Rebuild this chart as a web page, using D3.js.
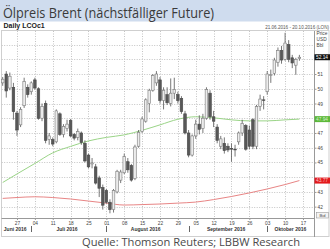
<!DOCTYPE html>
<html>
<head>
<meta charset="utf-8">
<script src="https://cdn.jsdelivr.net/npm/d3@7"></script>
<style>
body { margin: 0; background: #fff; }
svg { display: block; }
</style>
</head>
<body>
<div id="chart"></div>
<script>
// Brent front month, daily candles from 21.06.2016 (one value per trading day)
var startDate = "2016-06-21",
    endDate = "2016-10-20";

var open  = [50.4, 51.0, 50.05, 50.1, 48.35, 47.55, 48.85, 50.1, 49.8, 50.6,
             50.0, 48.0, 49.0, 46.55, 46.55, 46.4, 48.3, 46.9, 47.3, 47.85,
             46.9, 46.7, 47.0, 46.3, 45.5, 44.9, 44.7, 43.95, 43.3, 43.1,
             42.3, 41.8, 43.0, 43.8, 44.3, 45.05, 44.8, 43.9, 46.1, 47.1,
             47.8, 49.0, 49.9, 50.4, 50.6, 49.2, 49.6, 49.0, 49.7, 49.6,
             49.35, 48.3, 47.0, 45.5, 46.8, 47.6, 47.3, 48.0, 49.7, 48.1,
             47.4, 46.1, 46.3, 46.1, 45.95, 45.9, 46.4, 47.0, 47.5, 47.2,
             47.9, 46.1, 48.8, 49.25, 49.8, 50.9, 51.05, 51.8, 52.6, 52.0,
             53.0, 52.1, 51.6, 52.05];
var high  = [50.8, 51.2, 51.1, 50.4, 48.5, 48.75, 50.75, 50.3, 50.5, 50.75,
             50.1, 49.0, 49.2, 47.0, 46.7, 48.6, 48.4, 47.6, 47.9, 47.95,
             47.0, 47.3, 47.1, 46.5, 45.6, 45.3, 44.9, 44.1, 43.5, 43.2,
             42.5, 43.2, 44.5, 44.5, 45.6, 45.3, 44.9, 46.2, 47.2, 48.1,
             49.35, 50.0, 51.0, 51.2, 50.8, 50.1, 50.1, 50.7, 50.75, 49.8,
             49.5, 48.5, 47.2, 46.9, 47.9, 48.2, 48.3, 50.1, 49.9, 48.5,
             47.6, 46.8, 46.7, 46.3, 46.3, 46.2, 47.1, 47.9, 47.6, 47.5,
             48.0, 48.9, 49.6, 49.5, 51.2, 51.3, 52.1, 52.8, 52.9, 53.8,
             53.3, 52.3, 52.1, 52.3];
var low   = [50.2, 49.4, 49.9, 47.9, 46.8, 47.4, 48.7, 49.4, 49.6, 49.95,
             47.9, 47.8, 46.3, 46.2, 46.1, 46.3, 46.8, 46.7, 47.1, 46.7,
             46.5, 46.5, 46.2, 45.0, 44.6, 44.6, 43.5, 42.65, 41.8, 42.2,
             41.55, 41.6, 42.9, 43.6, 44.2, 44.3, 43.7, 43.8, 46.0, 47.0,
             47.7, 48.4, 49.8, 50.2, 49.0, 48.6, 48.9, 48.8, 49.3, 49.0,
             48.3, 46.9, 45.35, 45.4, 46.6, 46.9, 47.0, 47.9, 47.9, 47.4,
             46.3, 45.9, 45.6, 45.7, 45.05, 45.4, 46.2, 46.8, 45.8, 45.9,
             45.9, 45.9, 48.5, 48.6, 49.6, 50.4, 50.9, 51.5, 51.7, 51.9,
             51.8, 51.4, 50.95, 51.9];
var close = [50.65, 49.85, 50.85, 48.45, 47.2, 48.6, 50.5, 49.6, 50.4, 50.05,
             48.0, 48.8, 46.5, 46.8, 46.25, 48.5, 46.9, 47.45, 47.6, 46.8,
             46.65, 47.1, 46.35, 45.1, 44.7, 44.97, 43.6, 43.25, 42.1, 42.3,
             41.8, 43.1, 44.4, 44.35, 45.4, 44.5, 43.8, 46.05, 47.05, 47.95,
             49.25, 49.9, 50.9, 51.0, 49.2, 49.9, 49.05, 49.7, 49.95, 49.2,
             48.45, 47.0, 45.5, 46.8, 47.6, 47.25, 48.0, 49.95, 48.1, 47.8,
             46.5, 46.6, 45.8, 45.85, 45.9, 45.85, 47.0, 47.65, 45.9, 46.1,
             46.1, 48.8, 49.3, 49.2, 51.0, 50.95, 51.95, 52.6, 51.95, 53.1,
             52.0, 51.75, 52.0, 52.14];

// moving averages
var maDates = ["2016-06-21", "2016-06-27", "2016-07-04", "2016-07-11", "2016-07-18", "2016-07-25",
               "2016-08-01", "2016-08-08", "2016-08-15", "2016-08-22", "2016-08-29", "2016-09-05",
               "2016-09-12", "2016-09-19", "2016-09-26", "2016-10-03", "2016-10-10", "2016-10-14"];
var maGreen = [43.64, 44.22, 44.93, 45.65, 46.09, 46.46, 46.70, 46.87, 47.18, 47.55, 47.93, 48.10,
               48.03, 47.89, 47.82, 47.82, 47.89, 47.94];
var maRed   = [42.56, 42.62, 42.67, 42.62, 42.52, 42.38, 42.24, 42.11, 42.14, 42.18, 42.24, 42.31,
               42.48, 42.69, 42.93, 43.20, 43.50, 43.77];

// 44, 48 and 52 sit under the value tags
var priceTicks = [42, 43, 45, 46, 47, 49, 50, 51];
var gridPrices = [42, 43, 44, 45, 46, 47, 48, 49, 50, 51, 52, 53];
var monthNames = ["Juni 2016", "Juli 2016", "August 2016", "September 2016", "Oktober 2016"];

var width = 330, height = 249;
var plot = {left: 2.7, right: 313.7, top: 31, bottom: 218};
var axisX = 314;

var parse = d3.timeParse("%Y-%m-%d"),
    fmt = d3.timeFormat("%Y-%m-%d");

// trading calendar (Mon-Fri) of the shown range
var days = d3.timeDay.range(parse(startDate), d3.timeDay.offset(parse(endDate), 1))
    .filter(function(d) { return d.getDay() != 0 && d.getDay() != 6; });
var dayKeys = days.map(fmt);

var candles = open.map(function(o, i) {
    return {date: dayKeys[i], o: o, h: high[i], l: low[i], c: close[i]};
});

var x = d3.scalePoint()
    .domain(dayKeys)
    .range([plot.left, plot.right]);

var y = d3.scaleLinear()
    .domain([41.23, 53.92])
    .range([plot.bottom, plot.top]);

var svg = d3.select("#chart")
    .append("svg")
    .attr("width", width)
    .attr("height", height);

// title band
svg.append("rect")
    .attr("x", 0).attr("y", 0)
    .attr("width", width).attr("height", 21.5)
    .style("fill", "#cfdcee");

svg.append("text")
    .attr("x", 3).attr("y", 17.5)
    .attr("textLength", 211)
    .attr("lengthAdjust", "spacingAndGlyphs")
    .style("font-family", "'Open Sans', sans-serif")
    .style("font-size", "14px")
    .style("fill", "#3a3a3a")
    .text("Ölpreis Brent (nächstfälliger Future)");

svg.append("text")
    .attr("x", 3.5).attr("y", 28.3)
    .style("font-family", "'Liberation Sans', Arial, sans-serif")
    .style("font-size", "7px")
    .style("font-weight", "bold")
    .style("fill", "#222")
    .text("Daily LCOc1");

svg.append("text")
    .attr("x", 329).attr("y", 29)
    .attr("text-anchor", "end")
    .style("font-family", "'Liberation Sans', Arial, sans-serif")
    .style("font-size", "4.6px")
    .style("fill", "#555")
    .text("21.06.2016 - 20.10.2016 (LON)");

// chart frame
svg.append("rect")
    .attr("x", 1.5).attr("y", plot.top - 0.5)
    .attr("width", width - 2.5).attr("height", 237 - plot.top)
    .style("fill", "none")
    .style("stroke", "#cfcfcf")
    .style("stroke-width", 1);

// grid
var mondays = days.filter(function(d) { return d.getDay() == 1; });

svg.append("g")
    .selectAll("line")
    .data(gridPrices)
    .enter()
    .append("line")
    .attr("x1", plot.left - 1).attr("x2", axisX)
    .attr("y1", function(d) { return Math.round(y(d)) + 0.5; })
    .attr("y2", function(d) { return Math.round(y(d)) + 0.5; })
    .style("stroke", "#c4c4c4")
    .style("stroke-dasharray", "1,1.5");

svg.append("g")
    .selectAll("line")
    .data(mondays)
    .enter()
    .append("line")
    .attr("x1", function(d) { return Math.round(x(fmt(d))) + 0.5; })
    .attr("x2", function(d) { return Math.round(x(fmt(d))) + 0.5; })
    .attr("y1", plot.top).attr("y2", plot.bottom)
    .style("stroke", "#c4c4c4")
    .style("stroke-dasharray", "1,1.5");

// x axis
var xAxis = svg.append("g")
    .attr("transform", "translate(0," + plot.bottom + ")")
    .call(d3.axisBottom(x)
        .tickValues(mondays.map(fmt))
        .tickSize(2)
        .tickFormat(function(d) { return d.slice(8); }));
xAxis.select(".domain").attr("d", "M1.5,0.5H" + axisX).style("stroke", "#999");
xAxis.selectAll(".tick line").style("stroke", "#999");
xAxis.selectAll(".tick text")
    .attr("y", 4)
    .style("font-family", "'Liberation Sans', Arial, sans-serif")
    .style("font-size", "4.8px")
    .style("fill", "#444");

// month labels and separators
var monthGroups = d3.groups(days, function(d) { return d.getMonth(); });
monthGroups.forEach(function(g, i) {
    var first = g[1][0], last = g[1][g[1].length - 1];
    var x0 = x(fmt(first)), x1 = Math.min(x(fmt(last)), plot.right);
    svg.append("text")
        .attr("x", (x0 + x1) / 2).attr("y", 230.5)
        .attr("text-anchor", "middle")
        .style("font-family", "'Liberation Sans', Arial, sans-serif")
        .style("font-size", "5px")
        .style("font-weight", "bold")
        .style("fill", "#333")
        .text(monthNames[i]);
    if (i > 0) {
        svg.append("line")
            .attr("x1", Math.round(x0) + 0.5).attr("x2", Math.round(x0) + 0.5)
            .attr("y1", 226).attr("y2", 232)
            .style("stroke", "#666");
    }
});

// right price axis
svg.append("line")
    .attr("x1", axisX + 0.5).attr("x2", axisX + 0.5)
    .attr("y1", plot.top).attr("y2", 237)
    .style("stroke", "#999");

var yAxis = svg.append("g")
    .attr("transform", "translate(" + (axisX + 0.5) + ",0)")
    .call(d3.axisRight(y).tickValues(priceTicks).tickSize(2).tickFormat(d3.format("d")));
yAxis.select(".domain").remove();
yAxis.selectAll(".tick line").style("stroke", "#999");
yAxis.selectAll(".tick text")
    .attr("x", 3)
    .style("font-family", "'Liberation Sans', Arial, sans-serif")
    .style("font-size", "4.8px")
    .style("fill", "#444");

["Price", "USD", "Bbl"].forEach(function(t, i) {
    svg.append("text")
        .attr("x", 316.5).attr("y", 35 + i * 6)
        .style("font-family", "'Liberation Sans', Arial, sans-serif")
        .style("font-size", "4.8px")
        .style("fill", "#444")
        .text(t);
});

// moving averages
var maLine = d3.line()
    .x(function(d) { return x(d[0]); })
    .y(function(d) { return y(d[1]); })
    .curve(d3.curveMonotoneX);

svg.append("path")
    .attr("d", maLine(maDates.map(function(d, i) { return [d, maGreen[i]]; })))
    .style("fill", "none")
    .style("stroke", "#9ad487")
    .style("stroke-width", 1);

svg.append("path")
    .attr("d", maLine(maDates.map(function(d, i) { return [d, maRed[i]]; })))
    .style("fill", "none")
    .style("stroke", "#e88585")
    .style("stroke-width", 1);

// candles
var cg = svg.append("g");

cg.selectAll("line")
    .data(candles)
    .enter()
    .append("line")
    .attr("x1", function(d) { return x(d.date); })
    .attr("x2", function(d) { return x(d.date); })
    .attr("y1", function(d) { return y(d.h); })
    .attr("y2", function(d) { return y(d.l); })
    .style("stroke", "#555")
    .style("stroke-width", 0.8);

cg.selectAll("rect")
    .data(candles)
    .enter()
    .append("rect")
    .attr("x", function(d) { return x(d.date) - 1.3; })
    .attr("width", 2.6)
    .attr("y", function(d) { return y(Math.max(d.o, d.c)); })
    .attr("height", function(d) { return Math.max(0.6, Math.abs(y(d.o) - y(d.c))); })
    .style("fill", function(d) { return d.c >= d.o ? "#ececec" : "#585858"; })
    .style("stroke", function(d) { return d.c >= d.o ? "#7a7a7a" : "#4a4a4a"; })
    .style("stroke-width", 0.6);

// last value tags
function tag(value, fill, textColor) {
    var yy = y(value);
    svg.append("rect")
        .attr("x", axisX + 0.5).attr("y", yy - 3)
        .attr("width", width - axisX).attr("height", 6)
        .style("fill", fill);
    svg.append("text")
        .attr("x", axisX + 2).attr("y", yy + 1.8)
        .style("font-family", "'Liberation Sans', Arial, sans-serif")
        .style("font-size", "4.8px")
        .style("fill", textColor)
        .text(d3.format(".2f")(value));
}
tag(close[close.length - 1], "#111", "#fff");
tag(maGreen[maGreen.length - 1], "#5cb83a", "#d8f0cc");
tag(maRed[maRed.length - 1], "#e3191c", "#f6c6c6");

// small box lower right
svg.append("rect")
    .attr("x", 316.5).attr("y", 212.5)
    .attr("width", 12).attr("height", 5.5)
    .style("fill", "#f4f4f4")
    .style("stroke", "#999")
    .style("stroke-width", 0.6);
svg.append("text")
    .attr("x", 322.5).attr("y", 216.6)
    .attr("text-anchor", "middle")
    .style("font-family", "'Liberation Sans', Arial, sans-serif")
    .style("font-size", "4px")
    .style("fill", "#444")
    .text("Bid");

// source
svg.append("text")
    .attr("x", 82).attr("y", 246)
    .attr("textLength", 218)
    .attr("lengthAdjust", "spacingAndGlyphs")
    .style("font-family", "'Open Sans', sans-serif")
    .style("font-size", "10.5px")
    .style("fill", "#4a4a4a")
    .text("Quelle: Thomson Reuters; LBBW Research");
</script>
</body>
</html>
